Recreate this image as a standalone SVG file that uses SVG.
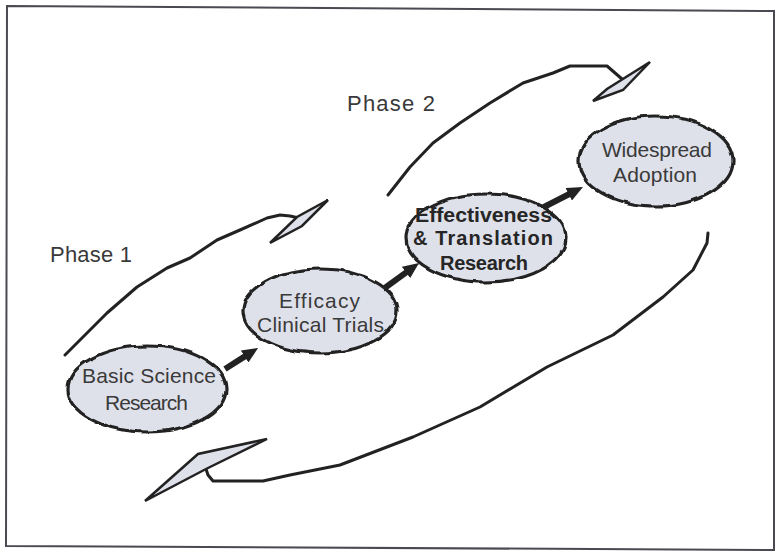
<svg xmlns="http://www.w3.org/2000/svg" width="777" height="553" viewBox="0 0 777 553">
<style>
.frame{fill:#ffffff;stroke:#4a4a52;stroke-width:2}
.blob{fill:#dfe1ea;stroke:#222;stroke-width:3.2;filter:url(#wavy)}
.lbl{font-family:"Liberation Sans",Arial,sans-serif;font-size:21px;fill:#3a3a3a}
.bold{font-weight:bold;fill:#262626;font-size:20px}
.phase{font-family:"Liberation Sans",Arial,sans-serif;font-size:22px;fill:#3a3a3a}
.arc{fill:none;stroke:#222;stroke-width:3;stroke-linejoin:round;stroke-linecap:round}
.head{fill:#dfe1ea;stroke:#222;stroke-width:2.5;stroke-linejoin:miter}
.flow{stroke:#222;stroke-width:6;fill:none}
</style>
<defs>
<filter id="wavy" x="-10%" y="-15%" width="120%" height="130%">
<feTurbulence type="fractalNoise" baseFrequency="0.09" numOctaves="1" seed="3" result="n"/>
<feDisplacementMap in="SourceGraphic" in2="n" scale="5" xChannelSelector="R" yChannelSelector="G"/>
</filter>
<marker id="ah" viewBox="0 0 16 14" refX="4" refY="7" markerWidth="16" markerHeight="14" markerUnits="userSpaceOnUse" orient="auto">
<path d="M0,0 L16,7 L0,14 z" fill="#222"/>
</marker>
</defs>
<path class="frame" d="M7,6 L774,11 L774,550 L6,546 Z"/>
<g id="connectors">
<path class="arc" d="M65,355 L107,313 L137,287 L167,268 L190,258 L217,240 L240,230 L267,218 L280,215 L290,216 L299,218"/>
<polygon class="head" points="270,243 297,217 328,200 302,226"/>
<path class="arc" d="M388,195 L410,167 L433,143 L460,123 L490,103 L523,83 L553,73 L570,66 L607,66 L622,79"/>
<polygon class="head" points="593,101 607,89 650,62 623,90"/>
<path class="arc" d="M708,233 L707,243 L693,270 L663,297 L613,335 L547,367 L480,407 L413,437 L340,465 L290,475 L263,481 L213,481 L208,475 L206,469"/>
<polygon class="head" points="145,501 198,454 267,439 206,469"/>
<line class="flow" x1="225" y1="369" x2="248" y2="354.4" marker-end="url(#ah)"/>
<line class="flow" x1="382" y1="290" x2="409.3" y2="270.1" marker-end="url(#ah)"/>
<line class="flow" x1="542" y1="208" x2="572.3" y2="192.5" marker-end="url(#ah)"/>
</g>
<g id="phase1"><text class="phase" x="50" y="262" textLength="82" lengthAdjust="spacing">Phase 1</text></g>
<g id="phase2"><text class="phase" x="347" y="111" textLength="88" lengthAdjust="spacing">Phase 2</text></g>
<g id="basic">
<ellipse class="blob" cx="147" cy="389" rx="79" ry="43"/>
<text class="lbl" x="82" y="383" textLength="134" lengthAdjust="spacing">Basic Science</text>
<text class="lbl" x="105" y="410" textLength="83" lengthAdjust="spacing">Research</text>
</g>
<g id="efficacy">
<ellipse class="blob" cx="320" cy="311" rx="77" ry="42"/>
<text class="lbl" x="279" y="308" textLength="81" lengthAdjust="spacing">Efficacy</text>
<text class="lbl" x="257" y="332" textLength="127" lengthAdjust="spacing">Clinical Trials</text>
</g>
<g id="effectiveness">
<ellipse class="blob" cx="486" cy="238" rx="80" ry="44"/>
<text class="lbl bold" x="415" y="222" textLength="137" lengthAdjust="spacingAndGlyphs">Effectiveness</text>
<text class="lbl bold" x="413" y="245" textLength="140" lengthAdjust="spacing">&amp; Translation</text>
<text class="lbl bold" x="440" y="270" textLength="88" lengthAdjust="spacing">Research</text>
</g>
<g id="widespread">
<ellipse class="blob" cx="656" cy="161" rx="77" ry="45"/>
<text class="lbl" x="602" y="157" textLength="110" lengthAdjust="spacing">Widespread</text>
<text class="lbl" x="613" y="182" textLength="84" lengthAdjust="spacing">Adoption</text>
</g>
</svg>
